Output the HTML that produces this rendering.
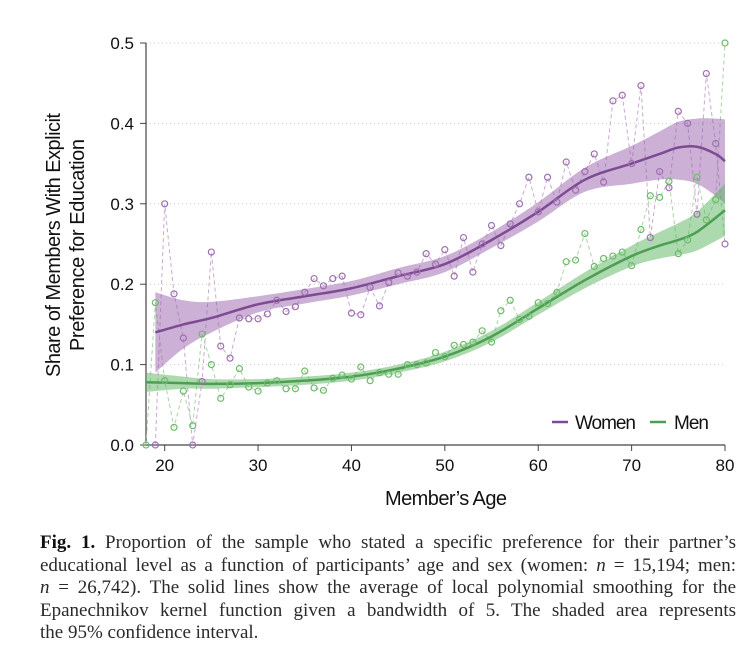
<!DOCTYPE html>
<html><head><meta charset="utf-8">
<style>
body{margin:0;background:#fff;width:749px;height:654px;overflow:hidden;position:relative}
svg{position:absolute;left:0;top:0}
.cap{position:absolute;left:40px;top:532px;width:696px;font-family:"Liberation Serif",serif;font-size:19px;line-height:22.6px;color:#2a2a2a}
.cap div{text-align:justify;text-align-last:justify;white-space:nowrap}
.cap div.last{text-align-last:left}
.cap b{color:#111}
</style></head><body>
<svg id="chart" width="749" height="530" font-family="Liberation Sans, sans-serif"></svg>
<div class="cap">
<div><b>Fig. 1.</b> Proportion of the sample who stated a specific preference for their partner’s</div>
<div>educational level as a function of participants’ age and sex (women: <i>n</i> = 15,194; men:</div>
<div><i>n</i> = 26,742). The solid lines show the average of local polynomial smoothing for the</div>
<div>Epanechnikov kernel function given a bandwidth of 5. The shaded area represents</div>
<div class="last">the 95% confidence interval.</div>
</div>
<script>
const womenAges=[19,20,21,22,23,24,25,26,27,28,29,30,31,32,33,34,35,36,37,38,39,40,41,42,43,44,45,46,47,48,49,50,51,52,53,54,55,56,57,58,59,60,61,62,63,64,65,66,67,68,69,70,71,72,73,74,75,76,77,78,79,80];
const womenVals=[0,0.30,0.188,0.133,0,0.079,0.24,0.123,0.108,0.158,0.157,0.157,0.163,0.18,0.166,0.172,0.19,0.207,0.198,0.207,0.21,0.164,0.162,0.196,0.173,0.202,0.214,0.21,0.215,0.238,0.225,0.243,0.21,0.258,0.215,0.25,0.273,0.248,0.275,0.3,0.333,0.29,0.333,0.302,0.352,0.317,0.34,0.362,0.327,0.428,0.435,0.35,0.447,0.258,0.34,0.32,0.415,0.4,0.287,0.462,0.375,0.25];
const menAges=[18,19,20,21,22,23,24,25,26,27,28,29,30,31,32,33,34,35,36,37,38,39,40,41,42,43,44,45,46,47,48,49,50,51,52,53,54,55,56,57,58,59,60,61,62,63,64,65,66,67,68,69,70,71,72,73,74,75,76,77,78,79,80];
const menVals=[0,0.177,0.08,0.022,0.067,0.024,0.138,0.1,0.058,0.075,0.095,0.072,0.067,0.077,0.08,0.07,0.07,0.092,0.071,0.068,0.083,0.087,0.082,0.097,0.08,0.09,0.088,0.088,0.1,0.1,0.102,0.115,0.11,0.124,0.125,0.128,0.142,0.128,0.167,0.18,0.156,0.16,0.177,0.176,0.19,0.228,0.23,0.263,0.222,0.232,0.235,0.24,0.223,0.268,0.31,0.308,0.328,0.238,0.255,0.333,0.28,0.305,0.5];
const womenSmoothAges=[19,22,25,30,35,40,45,50,55,60,65,70,73,75,77,79,80];
const womenSmooth=[0.14,0.15,0.158,0.175,0.185,0.195,0.21,0.225,0.255,0.29,0.33,0.35,0.362,0.37,0.371,0.362,0.353];
const womenLo=[0.09,0.12,0.14,0.165,0.176,0.186,0.2,0.215,0.245,0.278,0.315,0.325,0.33,0.33,0.325,0.31,0.30];
const womenHi=[0.19,0.18,0.178,0.185,0.194,0.204,0.22,0.235,0.265,0.302,0.345,0.372,0.39,0.402,0.406,0.406,0.405];
const menSmoothAges=[18,22,25,30,35,40,45,50,55,60,65,70,73,75,77,80];
const menSmooth=[0.078,0.077,0.076,0.077,0.08,0.085,0.095,0.11,0.135,0.17,0.205,0.235,0.248,0.255,0.265,0.292];
const menLo=[0.066,0.07,0.07,0.072,0.075,0.08,0.09,0.104,0.128,0.162,0.195,0.222,0.232,0.236,0.242,0.26];
const menHi=[0.09,0.085,0.082,0.082,0.085,0.09,0.1,0.116,0.142,0.178,0.215,0.248,0.265,0.276,0.29,0.325];
const xTicks=[20,30,40,50,60,70,80];
const yTicks=[0,0.1,0.2,0.3,0.4,0.5];
const yTickLabels=["0.0","0.1","0.2","0.3","0.4","0.5"];

const NS="http://www.w3.org/2000/svg";
const svg=document.getElementById('chart');
const X0=146,X1=725,Y0=445,Y1=43;
const x=a=>X0+(a-18)/(80-18)*(X1-X0);
const y=v=>Y0-v/0.5*(Y0-Y1);
function el(t,at,p){const e=document.createElementNS(NS,t);for(const k in at)e.setAttribute(k,at[k]);(p||svg).appendChild(e);return e;}
function curve(P,start){
  let d=(start?'M':'L')+P[0][0]+','+P[0][1];
  for(let i=0;i<P.length-1;i++){
    const p0=P[Math.max(i-1,0)],p1=P[i],p2=P[i+1],p3=P[Math.min(i+2,P.length-1)];
    d+=` C${p1[0]+(p2[0]-p0[0])/6},${p1[1]+(p2[1]-p0[1])/6} ${p2[0]-(p3[0]-p1[0])/6},${p2[1]-(p3[1]-p1[1])/6} ${p2[0]},${p2[1]}`;
  }
  return d;
}

yTicks.forEach((t,i)=>{
  if(i>0){const g=el('line',{x1:X0,x2:X1,y1:y(t),y2:y(t),stroke:'#ccc','stroke-width':1,'stroke-dasharray':'1,3'});
  
  }
  const tk=el('line',{x1:X0-6,x2:X0,y1:y(t),y2:y(t),stroke:'#444'});
  
  
  const lb=el('text',{x:X0-12,y:y(t)+6,'text-anchor':'end','font-size':17,fill:'#111'});lb.textContent=yTickLabels[i];
  
  
});
xTicks.forEach(t=>{
  const tk=el('line',{x1:x(t),x2:x(t),y1:Y0,y2:Y0+6,stroke:'#444'});
  
  
  const lb=el('text',{x:x(t),y:Y0+26,'text-anchor':'middle','font-size':17,fill:'#111'});lb.textContent=t;
  
  
});
const ax=el('path',{d:`M${X0},${Y1} V${Y0} H${X1}`,fill:'none',stroke:'#444','stroke-width':1.2});



function band(ages,lo,hi,col,name){
  const H=ages.map((a,i)=>[x(a),y(hi[i])]);
  const L=ages.map((a,i)=>[x(a),y(lo[i])]).reverse();
  const p=el('path',{d:curve(H,true)+' '+curve(L,false)+'Z',fill:col,'fill-opacity':0.5});
  
  
}
function smooth(ages,v,col,name){
  const p=el('path',{d:curve(ages.map((a,i)=>[x(a),y(v[i])]),true),fill:'none',stroke:col,'stroke-width':2.5});
  
  
}
function line(ages,v,col,name){
  const p=el('polyline',{points:ages.map((a,i)=>x(a)+','+y(v[i])).join(' '),fill:'none',stroke:col,'stroke-width':1,'stroke-dasharray':'4,3'});
  
  
}
function pts(ages,v,col,name){
  ages.forEach((a,i)=>{const c=el('circle',{cx:x(a),cy:y(v[i]),r:3,fill:'none',stroke:col,'stroke-width':1.2});
  
  });
}
line(womenAges,womenVals,'#c9a9d3','women-raw-line');
line(menAges,menVals,'#a9d3a6','men-raw-line');
band(womenSmoothAges,womenLo,womenHi,'#9a62ad','women-ci-band');
band(menSmoothAges,menLo,menHi,'#5cb460','men-ci-band');
smooth(womenSmoothAges,womenSmooth,'#7e4a94','women-smooth-line');
smooth(menSmoothAges,menSmooth,'#4d9e52','men-smooth-line');
pts(womenAges,womenVals,'#9e6fb0','women-point');
pts(menAges,menVals,'#6cbb6a','men-point');

const lg=el('g',{});


const l1=el('line',{x1:552,x2:568,y1:422,y2:422,stroke:'#7e4a94','stroke-width':2.5},lg);


const t1=el('text',{x:575,y:429,'font-size':19,fill:'#111',textLength:61},lg);t1.textContent='Women';


const l2=el('line',{x1:650,x2:666,y1:422,y2:422,stroke:'#4d9e52','stroke-width':2.5},lg);


const t2=el('text',{x:674,y:429,'font-size':19,fill:'#111',textLength:35},lg);t2.textContent='Men';



const xt=el('text',{x:446,y:505,'text-anchor':'middle','font-size':20,fill:'#111',textLength:122});xt.textContent='Member’s Age';


const yt=el('text',{transform:'translate(60,245) rotate(-90)','text-anchor':'middle','font-size':20,fill:'#111'});


const s1=el('tspan',{x:0,dy:0,textLength:264},yt);s1.textContent='Share of Members With Explicit';
const s2=el('tspan',{x:0,dy:24,textLength:212},yt);s2.textContent='Preference for Education';
</script>
</body></html>
